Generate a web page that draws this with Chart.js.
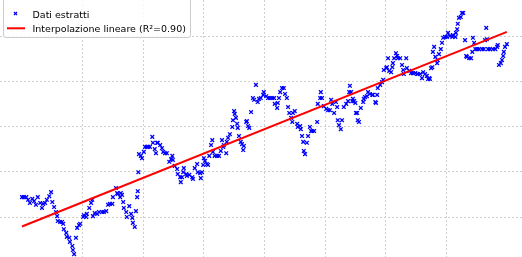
<!DOCTYPE html>
<html>
<head>
<meta charset="utf-8">
<script src="https://cdn.jsdelivr.net/npm/chart.js@4/dist/chart.umd.min.js"></script>
<style>
  html, body { margin: 0; padding: 0; background: #fff; }
  #wrap { position: relative; width: 522px; height: 257px; overflow: hidden; }
  #legend { position: absolute; left: 3px; top: -2px; width: 186px; height: 38px;
    border: 1px solid #cccccc; border-radius: 3px; background: rgba(255,255,255,0.8);
    font-family: 'DejaVu Sans', sans-serif; font-size: 9.5px; color: #000; }
  .lbl { position: absolute; left: 28.5px; line-height: 11px; white-space: nowrap; }
  #legend svg { position: absolute; left: 0; top: 0; }
</style>
</head>
<body>
<div id="wrap">
  <canvas id="c" width="522" height="257"></canvas>
  <div id="legend"></div>
</div>
<script>
// Extracted data (x in grid units x10, y in grid units x10)
const xVals = [
  0.0,0.3,0.7,1.0,1.3,1.7,2.0,2.3,2.6,3.0,3.3,3.5,3.8,4.1,4.5,4.8,5.0,5.3,5.6,5.8,
  5.9,6.3,6.6,6.8,6.9,7.3,7.4,7.8,7.9,8.3,8.4,8.6,8.9,9.1,9.4,9.6,10.1,10.2,10.6,10.7,
  11.1,11.4,11.6,11.7,12.0,12.4,12.7,13.2,13.5,
  13.9,14.2,14.5,14.9,15.0,15.5,15.7,15.8,16.2,16.3,16.5,16.7,16.8,17.2,17.3,17.7,18.0,18.2,18.3,18.6,
  18.8,19.0,19.1,19.2,19.3,19.6,19.8,20.1,20.3,20.6,20.8,21.1,21.5,21.6,21.9,22.1,22.3,22.4,22.8,23.1,
  23.3,23.6,23.9,24.3,24.6,24.8,24.9,25.2,25.6,25.7,26.1,26.2,
  26.4,26.6,26.7,27.1,27.2,27.6,28.1,28.2,28.5,28.9,29.0,29.4,29.5,29.7,29.9,30.0,30.2,30.5,30.7,30.9,
  31.2,31.4,31.5,31.8,32.2,32.5,32.8,33.0,33.2,33.3,33.7,33.8,34.0,34.3,34.7,34.8,35.0,35.1,35.3,35.5,
  35.6,35.8,36.1,36.3,36.5,36.6,37.0,37.1,37.3,37.5,37.8,38.1,38.3,38.6,38.9,39.1,39.4,39.8,39.9,40.3,
  40.6,40.9,41.3,41.6,
  41.7,42.1,42.2,42.4,42.6,42.9,43.2,43.4,43.7,43.9,44.1,44.4,44.6,44.7,45.0,45.4,45.5,45.9,46.0,46.2,
  46.4,46.5,46.7,47.0,47.2,47.5,47.7,47.9,48.2,48.7,48.8,49.2,49.3,49.5,49.8,50.2,50.5,50.8,51.0,51.2,
  51.5,51.8,52.0,52.1,52.3,52.6,52.8,53.1,53.5,53.8,54.0,54.1,54.3,54.5,54.6,54.8,55.0,55.1,55.3,55.4,
  55.6,55.9,56.3,56.4,56.6,56.9,57.1,57.4,57.8,57.9,58.3,58.4,58.6,58.7,59.1,59.4,59.6,59.7,60.1,60.2,
  60.4,60.6,60.9,61.1,61.2,61.4,61.7,61.9,62.0,62.4,62.7,62.9,63.0,63.4,63.5,63.9,64.2,64.5,64.9,65.2,
  65.3,65.7,66.0,66.2,66.5,66.8,67.0,67.2,67.3,67.5,67.7,67.8,68.0,68.2,68.5,68.6,68.8,69.1,69.3,69.5,
  69.8,70.1,70.3,70.6,71.0,71.1,71.5,71.6,71.8,71.9,72.1,72.4,72.6,72.8,73.1,73.3,73.4,73.8,74.1,74.3,
  74.4,74.6,74.8,75.1,75.4,75.9,76.2,76.4,76.6,76.7,76.9,77.2,77.7,78.1,78.4,78.5,78.7,79.0,79.2,79.4,
  79.5,79.7,80.0
];
const yVals = [
  4.4,4.4,4.4,3.8,3.1,4.0,3.5,2.7,4.4,3.1,2.0,2.9,3.1,3.8,4.6,5.5,3.3,2.2,1.1,0.2,
  -0.9,-1.1,-1.1,-1.5,-2.7,-3.5,-4.4,-4.6,-5.5,-6.4,-7.3,-8.2,-4.6,-2.4,-1.8,-1.5,0.0,0.4,0.0,0.7,
  2.0,3.1,3.8,0.2,0.9,0.7,1.1,1.1,1.1,
  1.3,2.7,2.9,2.9,4.4,6.4,5.3,5.1,4.4,5.3,4.9,3.3,2.0,1.1,0.0,2.4,0.7,-0.2,-1.3,-2.2,
  1.3,4.4,5.7,9.9,13.9,13.5,13.0,14.4,15.5,15.5,15.5,15.5,17.7,16.4,15.0,14.1,16.4,16.4,15.9,15.2,
  14.4,14.1,14.1,12.2,12.8,13.5,12.6,11.3,10.6,9.5,8.8,7.7,
  8.8,9.9,10.8,9.5,9.1,9.3,8.8,8.4,10.8,11.7,9.9,9.7,8.6,9.9,11.5,13.0,12.4,11.7,11.5,13.5,
  15.9,17.0,14.4,13.5,13.5,13.5,14.6,17.0,15.5,15.9,14.1,16.6,17.5,18.3,19.9,21.4,23.4,22.8,21.9,20.6,
  19.7,17.9,16.6,16.1,14.8,15.7,21.0,21.2,20.1,19.7,23.2,26.3,25.9,29.2,25.4,26.1,26.3,27.0,27.6,26.7,
  26.3,26.3,26.3,26.3,
  25.0,24.1,25.2,26.3,27.6,28.5,28.5,27.2,26.3,24.3,23.0,21.9,21.0,23.0,23.4,20.6,19.9,20.1,19.4,17.9,
  16.6,14.6,13.9,16.4,17.9,19.9,19.0,19.0,19.0,21.0,25.0,26.3,27.6,26.3,24.5,23.9,23.6,23.6,25.9,25.0,
  23.0,25.4,24.3,21.4,20.3,19.4,21.4,24.3,25.0,25.6,27.6,29.0,27.6,25.6,26.1,25.6,25.2,23.0,23.0,21.4,
  21.0,24.1,25.4,26.1,26.5,26.7,27.6,27.2,27.0,27.0,25.4,25.2,27.0,28.5,29.2,29.8,30.3,32.5,32.9,33.1,
  35.1,32.3,32.0,33.1,34.0,35.1,36.2,35.6,35.1,35.1,33.6,32.5,31.6,35.1,32.9,32.3,31.8,31.8,31.8,31.6,
  31.6,31.6,30.7,32.0,31.6,31.2,30.5,30.7,30.5,32.9,33.1,36.5,37.6,35.4,34.0,34.7,36.0,37.1,38.5,39.6,
  39.8,39.8,40.7,40.0,39.8,40.2,39.8,40.7,41.5,42.7,44.0,44.2,45.1,45.1,39.1,35.6,35.4,35.1,35.1,36.5,
  39.6,38.5,37.1,37.1,37.1,37.1,37.1,39.1,41.8,39.3,37.1,37.1,37.1,37.1,37.6,38.0,33.6,34.0,34.7,35.6,
  36.5,37.6,38.2
];
// Linear fit end points
const fitX = [0.0, 80.0];
const fitY = [-2.1, 40.9];
const labels = ['Dati estratti', 'Interpolazione lineare (R²=0.90)'];

const scatterData = xVals.map((x, i) => ({ x: x, y: yVals[i] }));
const fitData = fitX.map((x, i) => ({ x: x, y: fitY[i] }));

function keepMultiples(scale) {
  scale.ticks = scale.ticks.filter(t => Math.abs(t.value / 10 - Math.round(t.value / 10)) < 1e-6);
}

const gridCfg = { color: '#cfcfcf', lineWidth: 1, drawTicks: false, tickLength: 0 };
const borderCfg = { display: false, dash: [2, 2] };

new Chart(document.getElementById('c'), {
  type: 'scatter',
  data: {
    datasets: [
      {
        type: 'line',
        label: labels[1],
        data: fitData,
        borderColor: '#ff0000',
        borderWidth: 2,
        pointRadius: 0,
        fill: false,
        order: 0
      },
      {
        label: labels[0],
        data: scatterData,
        pointStyle: 'crossRot',
        pointRadius: 2.6,
        pointBorderWidth: 1.3,
        borderColor: '#0000ff',
        backgroundColor: '#0000ff',
        order: 1
      }
    ]
  },
  options: {
    responsive: false,
    devicePixelRatio: 1,
    animation: false,
    events: [],
    layout: { padding: 0, autoPadding: false },
    plugins: { legend: { display: false }, tooltip: { enabled: false } },
    scales: {
      x: {
        type: 'linear', min: -3.63, max: 82.5,
        ticks: { display: false, stepSize: 10 },
        grid: gridCfg, border: borderCfg,
        afterBuildTicks: keepMultiples
      },
      y: {
        type: 'linear', min: -8.84, max: 47.96,
        ticks: { display: false, stepSize: 10 },
        grid: gridCfg, border: borderCfg,
        afterBuildTicks: keepMultiples
      }
    }
  }
});

// Legend (HTML overlay)
const lg = document.getElementById('legend');
lg.innerHTML =
  '<svg width="40" height="38">' +
  '<line x1="10" y1="13" x2="13" y2="16" stroke="#0000ff" stroke-width="1.3"/>' +
  '<line x1="13" y1="13" x2="10" y2="16" stroke="#0000ff" stroke-width="1.3"/>' +
  '<line x1="3" y1="29.3" x2="21" y2="29.3" stroke="#ff0000" stroke-width="2"/>' +
  '</svg>' +
  '<div class="lbl" style="top:9.5px">' + labels[0] + '</div>' +
  '<div class="lbl" style="top:23.9px">' + labels[1] + '</div>';
</script>
</body>
</html>
